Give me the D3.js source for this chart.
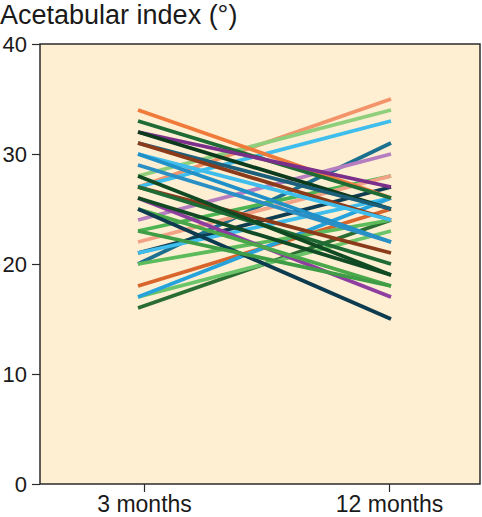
<!DOCTYPE html>
<html><head><meta charset="utf-8">
<script src="https://cdn.jsdelivr.net/npm/d3@7"></script>
<style>
html,body{margin:0;padding:0;background:#fff;}
svg{display:block;font-family:"Liberation Sans",Arial,Helvetica,sans-serif;}
</style></head>
<body>
<svg id="chart" width="482" height="517"></svg>
<script>
const categories = ["3 months", "12 months"];
const yTicks = [0, 10, 20, 30, 40];
const start3m = [27, 28, 27, 20, 24, 23, 21, 21, 18, 16, 17, 17, 22, 20,
                 34, 33, 32, 26, 32, 31, 31, 30, 30, 29, 27, 27, 26, 25, 25, 23, 28];
const end12m  = [35, 34, 33, 31, 30, 28, 27, 26, 25, 24, 23, 26, 28, 24,
                 26, 26, 27, 17, 25, 25, 24, 24, 22, 22, 21, 20, 19, 18, 15, 18, 19];
const colors  = ["#f2936a", "#8fcf7c", "#3fbdec", "#1b6f8f", "#b57ec0", "#4db452", "#0e3c50",
                 "#3fbdec", "#d8652c", "#2a6d33", "#6cc46a", "#27a3dc", "#f2a386", "#5cbb5a",
                 "#f07a3a", "#1e6b35", "#7a2f8a", "#8e3e9e", "#0c3a1c", "#1c5f7a", "#8b3a1a",
                 "#3fbdec", "#2090c8", "#2a8fc4", "#8b3a1a", "#1e6b35", "#124a25", "#4aa84a",
                 "#0d3b4f", "#3f9e45", "#0f4a22"];

const W = 482, H = 517;
const plot = {left: 40, right: 480, top: 44, bottom: 484};
const svg = d3.select("#chart");

const y = d3.scaleLinear().domain([0, 40]).range([plot.bottom, plot.top]);
const x = d3.scalePoint().domain(categories).range([144, 389]);
const xLine = d3.scalePoint().domain(categories).range([138, 391]);

svg.append("rect")
  .attr("x", plot.left).attr("y", plot.top)
  .attr("width", plot.right - plot.left).attr("height", plot.bottom - plot.top)
  .attr("fill", "#feefd2");

const lines = start3m.map((s, i) => [s, end12m[i], colors[i]]);
const lineGen = d3.line().x(d => xLine(d[0])).y(d => y(d[1]));
svg.append("g").selectAll("path").data(lines).join("path")
  .attr("d", d => lineGen([[categories[0], d[0]], [categories[1], d[1]]]))
  .attr("fill", "none")
  .attr("stroke", d => d[2])
  .attr("stroke-width", 3.8);

svg.append("rect")
  .attr("x", plot.left).attr("y", plot.top)
  .attr("width", plot.right - plot.left).attr("height", plot.bottom - plot.top)
  .attr("fill", "none").attr("stroke", "#2b2b2b").attr("stroke-width", 1.5);

const yAxis = svg.append("g").attr("transform", `translate(${plot.left},0)`)
  .call(d3.axisLeft(y).tickValues(yTicks).tickSize(8).tickPadding(5));
yAxis.select(".domain").remove();
yAxis.selectAll("line").attr("stroke", "#2b2b2b").attr("stroke-width", 1.2);
yAxis.selectAll("text").attr("font-size", 22).attr("fill", "#1a1a1a")
  .attr("font-family", "Liberation Sans, Arial, sans-serif");

const xAxis = svg.append("g").attr("transform", `translate(0,${plot.bottom})`)
  .call(d3.axisBottom(x).tickSize(8).tickPadding(6));
xAxis.select(".domain").remove();
xAxis.selectAll("line").attr("stroke", "#2b2b2b").attr("stroke-width", 1.2);
xAxis.selectAll("text").attr("font-size", 23).attr("fill", "#1a1a1a")
  .attr("y", 28).attr("dy", null)
  .attr("font-family", "Liberation Sans, Arial, sans-serif");

svg.append("text").attr("x", 0).attr("y", 24)
  .attr("font-size", 27).attr("fill", "#1a1a1a")
  .text("Acetabular index (°)");
</script>
</body></html>
